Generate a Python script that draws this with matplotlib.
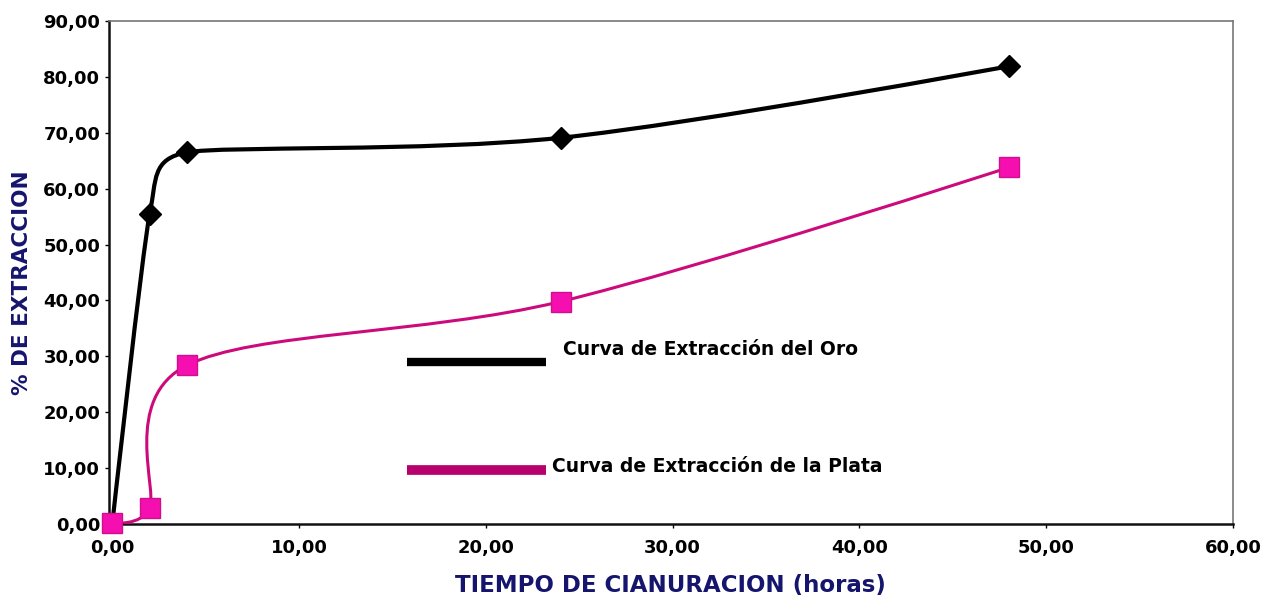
import numpy as np
import matplotlib
matplotlib.use("Agg")
import matplotlib.pyplot as plt
from matplotlib.path import Path
from matplotlib.patches import PathPatch

# data
horas = [0, 2, 4, 24, 48]
oro = [0.0, 55.4, 66.5, 69.1, 81.9]
plata = [0.2, 2.8, 28.4, 39.8, 63.8]

x_ticks = [0, 10, 20, 30, 40, 50, 60]
y_ticks = [0, 10, 20, 30, 40, 50, 60, 70, 80, 90]

navy = "#15156e"
pink_line = "#cc0a7c"
pink_marker = "#f50fb0"

fig = plt.figure(figsize=(12.62, 5.98), dpi=100)
ax = fig.add_axes([0.086, 0.1237, 0.891, 0.8412])
ax.set_xlim(-0.2, 60)
ax.set_ylim(0, 90)


def smooth_path(xs, ys):
    # excel style smoothing (bezier, tension 1/6, capped at half the shorter segment)
    pts = np.column_stack([xs, ys]).astype(float)
    sx = ax.bbox.width / (ax.get_xlim()[1] - ax.get_xlim()[0])
    sy = ax.bbox.height / (ax.get_ylim()[1] - ax.get_ylim()[0])
    scale = np.array([sx, sy])
    ext = np.vstack([pts[0], pts, pts[-1]])

    def offset(i):
        # tangent offset at ext[i]
        p0, p1, p2 = ext[i - 1], ext[i], ext[i + 1]
        t = p2 - p0
        d02 = np.linalg.norm(t * scale)
        d01 = np.linalg.norm((p1 - p0) * scale)
        d12 = np.linalg.norm((p2 - p1) * scale)
        if d02 == 0:
            return np.zeros(2)
        f = 1 / 6
        if d02 / 6 > min(d01, d12) / 2:
            f = min(d01, d12) / (2 * d02)
        return t * f

    verts = [pts[0]]
    codes = [Path.MOVETO]
    for i in range(1, len(pts)):
        c1 = ext[i] + offset(i)
        c2 = ext[i + 1] - offset(i + 1)
        verts += [c1, c2, ext[i + 1]]
        codes += [Path.CURVE4] * 3
    return Path(verts, codes)


ax.add_patch(PathPatch(smooth_path(horas, oro), facecolor="none",
                       edgecolor="black", lw=3, zorder=3))
ax.add_patch(PathPatch(smooth_path(horas, plata), facecolor="none",
                       edgecolor=pink_line, lw=2.2, zorder=3))
ax.plot(horas, oro, linestyle="none", marker="D", ms=11, color="black", zorder=4)
ax.plot(horas, plata, linestyle="none", marker="s", ms=14, color=pink_marker,
        markeredgecolor="#d0108a", zorder=4, clip_on=False)

# labels drawn inside the plot like the original
ax.plot([0.265, 0.389], [0.322, 0.322], transform=ax.transAxes, color="black", lw=6,
        solid_capstyle="butt")
ax.plot([0.265, 0.389], [0.107, 0.107], transform=ax.transAxes, color="#b8006c", lw=7,
        solid_capstyle="butt")
ax.text(0.404, 0.346, "Curva de Extracción del Oro", transform=ax.transAxes,
        fontsize=13.5, fontweight="bold", va="center", ha="left")
ax.text(0.394, 0.115, "Curva de Extracción de la Plata", transform=ax.transAxes,
        fontsize=13.5, fontweight="bold", va="center", ha="left")

ax.set_xticks(x_ticks)
ax.set_yticks(y_ticks)
ax.set_xticklabels([f"{v:.2f}".replace(".", ",") for v in x_ticks])
ax.set_yticklabels([f"{v:.2f}".replace(".", ",") for v in y_ticks])
ax.tick_params(labelsize=13, length=3, width=1, direction="out", pad=3)
ax.tick_params(axis="x", pad=8)
for lab in ax.get_xticklabels() + ax.get_yticklabels():
    lab.set_fontweight("bold")

for side in ["left", "bottom"]:
    ax.spines[side].set_linewidth(1.8)
    ax.spines[side].set_color("#111111")
for side in ["top", "right"]:
    ax.spines[side].set_linewidth(1.2)
    ax.spines[side].set_color("#777777")

ax.set_xlabel("TIEMPO DE CIANURACION (horas)", fontsize=16.5, fontweight="bold",
              color=navy, labelpad=12)
ax.set_ylabel("% DE EXTRACCION", fontsize=15.5, fontweight="bold", color=navy)
ax.yaxis.set_label_coords(-0.068, 0.48)

fig.savefig("out.png", dpi=100)
